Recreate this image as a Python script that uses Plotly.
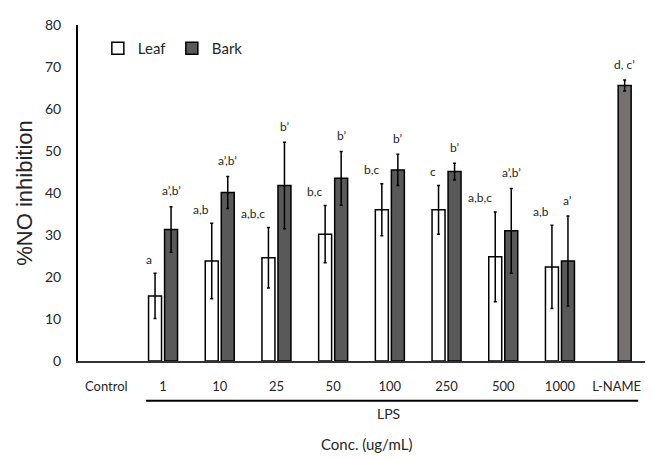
import plotly.graph_objects as go

categories = ["Control", "1", "10", "25", "50", "100", "250", "500", "1000", "L-NAME"]
leaf_values = [None, 15.5, 23.8, 24.6, 30.2, 36.0, 36.0, 24.8, 22.4, None]
leaf_errors = [None, 5.4, 9.0, 7.2, 6.8, 6.2, 5.8, 10.7, 9.9, None]
bark_values = [None, 31.3, 40.1, 41.8, 43.5, 45.5, 45.1, 31.0, 23.8, 65.6]
bark_errors = [None, 5.4, 3.8, 10.3, 6.4, 3.7, 2.0, 10.1, 10.7, 1.3]
leaf_labels = ["", "a", "a,b", "a,b,c", "b,c", "b,c", "c", "a,b,c", "a,b", ""]
bark_labels = ["", "a’,b’", "a’,b’", "b’", "b’", "b’", "b’", "a’,b’", "a’", "d, c’"]
bark_colors = ["#595959"] * 9 + ["#767171"]

FONT = "Lato"
TXT = "#262626"

fig = go.Figure()
fig.add_trace(go.Bar(
    name="Leaf", x=categories, y=leaf_values,
    marker=dict(color="white", line=dict(color="black", width=1.5)),
    error_y=dict(type="data", array=leaf_errors, color="black", thickness=1.5, width=1.5),
))
fig.add_trace(go.Bar(
    name="Bark", x=categories, y=bark_values,
    marker=dict(color=bark_colors, line=dict(color="black", width=1.5)),
    error_y=dict(type="data", array=bark_errors, color="black", thickness=1.5, width=1.5),
))

annotations = []
for i, c in enumerate(categories):
    if leaf_labels[i] and leaf_values[i] is not None:
        annotations.append(dict(
            x=i, y=leaf_values[i] + leaf_errors[i], xref="x", yref="y",
            text=leaf_labels[i], showarrow=False, xanchor="right", yanchor="middle",
            xshift=-9, yshift=14, font=dict(family=FONT, size=12, color=TXT)))
    if bark_labels[i] and bark_values[i] is not None:
        annotations.append(dict(
            x=i, y=bark_values[i] + bark_errors[i], xref="x", yref="y",
            text=bark_labels[i], showarrow=False, xanchor="center", yanchor="middle",
            xshift=8, yshift=16, font=dict(family=FONT, size=12, color=TXT)))

annotations.append(dict(x=4.98, y=-0.157, xref="x", yref="paper", text="LPS",
                        showarrow=False, yanchor="middle",
                        font=dict(family=FONT, size=14, color=TXT)))
annotations.append(dict(x=0.508, y=-0.246, xref="paper", yref="paper", text="Conc. (ug/mL)",
                        showarrow=False, xanchor="center", yanchor="middle",
                        font=dict(family=FONT, size=15, color=TXT)))

fig.update_layout(
    width=646, height=451,
    margin=dict(l=70, r=9, t=8, b=98),
    paper_bgcolor="white", plot_bgcolor="white",
    barmode="group", bargap=0.435, bargroupgap=0.19,
    font=dict(family=FONT, color=TXT),
    legend=dict(orientation="h", x=0.035, y=0.93, xanchor="left", yanchor="middle",
                font=dict(family=FONT, size=15, color=TXT), bgcolor="rgba(0,0,0,0)",
                itemwidth=30, entrywidth=29, traceorder="normal"),
    annotations=annotations,
    shapes=[dict(type="line", xref="x", yref="paper", x0=0.7, x1=9.38, y0=-0.118, y1=-0.118,
                 line=dict(color="black", width=2))],
    showlegend=True,
)
fig.update_yaxes(
    range=[0, 80], dtick=10, showgrid=False, zeroline=False,
    showline=True, linecolor="black", linewidth=2,
    ticks="", ticklabelstandoff=12, ticklabeloverflow="allow",
    tickfont=dict(family=FONT, size=14, color=TXT),
    title=dict(text="%NO inhibition", font=dict(family="Liberation Sans", size=22, color=TXT), standoff=6),
)
fig.update_xaxes(
    type="category", range=[-0.5, 9.5],
    showgrid=False, showline=True, linecolor="#333333", linewidth=2,
    ticks="", ticklabelstandoff=12, ticklabeloverflow="allow",
    tickfont=dict(family=FONT, size=13, color=TXT),
)

fig.write_html("out.html")
